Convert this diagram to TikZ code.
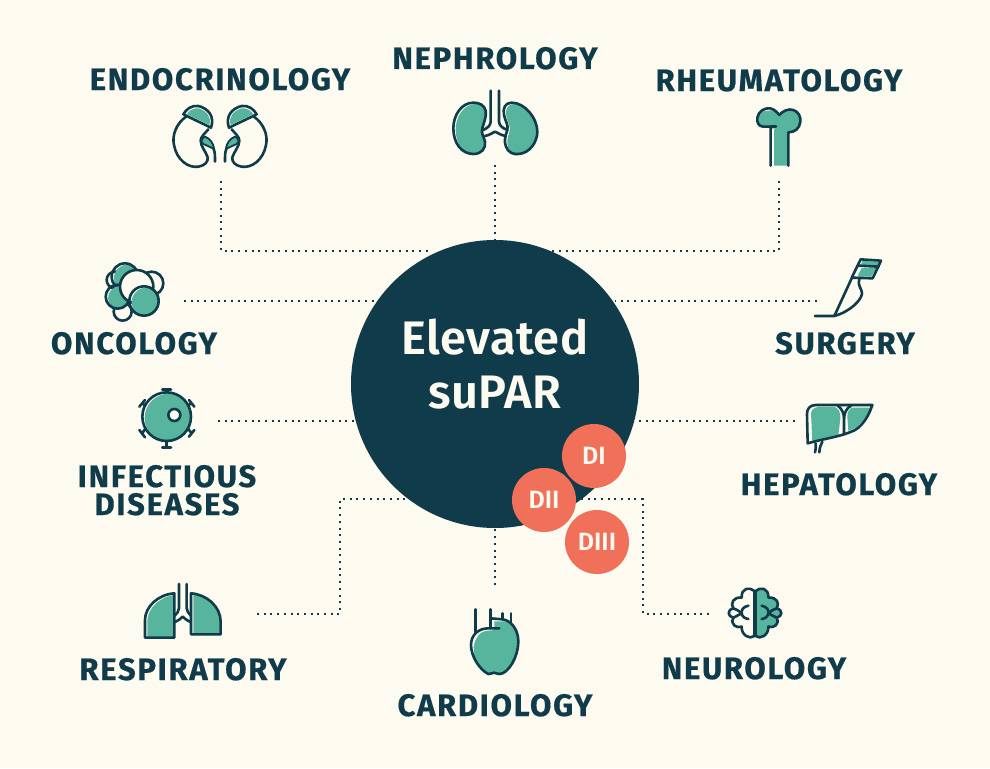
\documentclass[tikz,border=0pt]{standalone}
\usepackage{fontspec}
\setmainfont{Fira Sans}
\newfontfamily\labfont[LetterSpace=5.5,FakeBold=0.5]{Fira Sans Bold}
\newfontfamily\hubfont[LetterSpace=1]{Fira Sans SemiBold}
\newfontfamily\badgefont{Fira Sans SemiBold}
\definecolor{bgc}{HTML}{FDFAEF}
\definecolor{navy}{HTML}{0F3B4A}
\definecolor{tealc}{HTML}{58B59D}
\definecolor{coral}{HTML}{F0705A}
\tikzset{
  z/.style 2 args={shift={(#1,#2)},x=0.33333pt,y=-0.33333pt},
  ic/.style={draw=navy,line width=2.6pt,line cap=round,line join=round},
  lab/.style={anchor=base,inner sep=0pt,text=navy,font=\labfont\fontsize{31}{31}\selectfont},
  hubtxt/.style={anchor=base,inner sep=0pt,text=bgc,font=\hubfont\fontsize{47}{47}\selectfont},
  badge/.style={circle,fill=coral,minimum size=64pt,inner sep=0pt,text=bgc,font=\badgefont\fontsize{25}{25}\selectfont},
  dotline/.style={draw=navy,line width=2pt,dash pattern=on 2pt off 4.7pt},
}
\newcommand\offs[1]{\begin{scope}\clip #1;\fill[tealc,shift={(7,4)}] #1;\end{scope}\draw[ic] #1;}
\begin{document}
\begin{tikzpicture}[x=1pt,y=-1pt]
\useasboundingbox (0,0) rectangle (990,768);
\fill[bgc] (0,0) rectangle (990,768);
% connector anchors
\coordinate (e1) at (221,181); \coordinate (e2) at (221,251); \coordinate (e3) at (428,251);
\coordinate (n1) at (495,165); \coordinate (n2) at (495,240);
\coordinate (r1) at (779,181); \coordinate (r2) at (779,251); \coordinate (r3) at (548,251);
\coordinate (o1) at (184,301); \coordinate (o2) at (375,301);
\coordinate (s1) at (817,301); \coordinate (s2) at (615,301);
\coordinate (i1) at (218,421); \coordinate (i2) at (355,421);
\coordinate (h1) at (795,421); \coordinate (h2) at (637,421);
\coordinate (p1) at (257,614); \coordinate (p2) at (340,614); \coordinate (p3) at (340,499); \coordinate (p4) at (410,499);
\coordinate (c1) at (495,585); \coordinate (c2) at (495,528);
\coordinate (u1) at (709,614); \coordinate (u2) at (643,614); \coordinate (u3) at (643,499); \coordinate (u4) at (575,499);
\draw[dotline] (e1) -- (e2) -- (e3);
\draw[dotline] (n1) -- (n2);
\draw[dotline] (r1) -- (r2) -- (r3);
\draw[dotline] (o1) -- (o2);
\draw[dotline] (s1) -- (s2);
\draw[dotline] (i1) -- (i2);
\draw[dotline] (h1) -- (h2);
\draw[dotline] (p1) -- (p2) -- (p3) -- (p4);
\draw[dotline] (c1) -- (c2);
\draw[dotline] (u1) -- (u2) -- (u3) -- (u4);
% hub
\node[circle,fill=navy,minimum size=288pt,inner sep=0pt] (hub) at (495,384) {};
\node[hubtxt] (t1) at (495,354) {Elevated};
\node[hubtxt] (t2) at (495,408) {suPAR};
\node[badge] (d1) at (594,456) {DI};
\node[badge] (d3) at (597,542) {DIII};
\node[badge] (d2) at (544,500) {DII};
% labels
\node[lab] (l1) at (220,90) {ENDOCRINOLOGY};
\node[lab] (l2) at (495,69) {NEPHROLOGY};
\node[lab] (l3) at (779,91) {RHEUMATOLOGY};
\node[lab] (l4) at (134,354) {ONCOLOGY};
\node[lab] (l5) at (845,354) {SURGERY};
\node[lab] (l6) at (167,487) {INFECTIOUS};
\node[lab] (l7) at (167,515) {DISEASES};
\node[lab] (l8) at (839,495) {HEPATOLOGY};
\node[lab] (l9) at (183,680) {RESPIRATORY};
\node[lab] (l10) at (495,716) {CARDIOLOGY};
\node[lab] (l11) at (754,679) {NEUROLOGY};
% endocrinology
\foreach \sx/\ox in {1/150,-1/290}{
\begin{scope}[z={\ox}{80},xscale=\sx]
\draw[ic] (108,110) .. controls (80,130) and (65,165) .. (72,195) .. controls (80,240) and (115,265) .. (145,260) .. controls (165,257) and (175,245) .. (173,232) .. controls (168,215) and (152,200) .. (152,182) .. controls (152,170) and (165,160) .. (175,148);
\filldraw[ic,fill=bgc] (100,103) -- (183,143) .. controls (195,110) and (175,85) .. (145,78) .. controls (125,75) and (108,88) .. (100,103) -- cycle;
\fill[tealc] (110,103) -- (178,135) .. controls (185,110) and (170,92) .. (145,85) .. controls (130,83) and (117,92) .. (110,103) -- cycle;
\filldraw[ic,fill=tealc,line width=1.8pt] (165,170) .. controls (155,175) and (150,185) .. (160,192) .. controls (175,198) and (185,205) .. (192,205) .. controls (190,190) and (180,175) .. (165,170) -- cycle;
\draw[ic] (195,245) .. controls (195,225) and (195,215) .. (190,205);
\end{scope}}
% nephrology
\begin{scope}[z={430}{80}]
\offs{(130,68) .. controls (95,68) and (70,105) .. (70,145) .. controls (70,190) and (95,222) .. (130,222) .. controls (155,222) and (168,205) .. (165,185) .. controls (162,170) and (152,160) .. (157,145) .. controls (162,125) and (170,110) .. (167,92) .. controls (163,75) and (148,68) .. (130,68) -- cycle}
\offs{(245,68) .. controls (225,68) and (218,85) .. (222,105) .. controls (226,125) and (236,135) .. (232,150) .. controls (225,170) and (222,185) .. (228,200) .. controls (235,218) and (250,224) .. (265,222) .. controls (300,220) and (322,185) .. (322,155) .. controls (322,115) and (285,68) .. (245,68) -- cycle}
\draw[ic] (182,32) -- (182,125) .. controls (182,138) and (170,145) .. (160,150);
\draw[ic] (207,32) -- (207,125) .. controls (207,138) and (220,145) .. (232,150);
\draw[ic] (165,168) .. controls (180,165) and (188,158) .. (195,155) .. controls (202,158) and (212,165) .. (226,168);
\end{scope}
% rheumatology
\begin{scope}[z={730}{95}]
\begin{scope}
\clip (122,212) -- (122,95) -- (100,95) .. controls (85,95) and (80,80) .. (82,68) .. controls (85,48) and (105,38) .. (120,40) .. controls (132,42) and (142,52) .. (148,60) .. controls (158,48) and (175,40) .. (190,45) .. controls (205,50) and (213,65) .. (211,80) .. controls (209,100) and (195,112) .. (175,112) -- (175,212) -- cycle;
\fill[tealc] (132,212) -- (132,105) -- (138,98) -- (85,98) -- (85,55) .. controls (100,46) and (120,45) .. (132,52) -- (148,66) -- (170,45) -- (220,50) -- (220,120) -- (180,120) -- (175,212) -- cycle;
\fill[tealc,shift={(7,6)}] (100,95) .. controls (85,95) and (80,80) .. (82,68) .. controls (85,48) and (105,38) .. (120,40) .. controls (132,42) and (142,52) .. (148,60) -- (148,95) -- cycle;
\end{scope}
\draw[ic] (122,212) -- (122,95) -- (100,95) .. controls (85,95) and (80,80) .. (82,68) .. controls (85,48) and (105,38) .. (120,40) .. controls (132,42) and (142,52) .. (148,60) .. controls (158,48) and (175,40) .. (190,45) .. controls (205,50) and (213,65) .. (211,80) .. controls (209,100) and (195,112) .. (175,112) -- (175,212);
\draw[ic] (122,95) -- (138,95);
\end{scope}
% oncology
\begin{scope}[z={90}{255}]
\filldraw[ic,fill=bgc] (75,75) circle[radius=25];
\filldraw[ic,fill=bgc] (185,85) circle[radius=35];
\filldraw[ic,fill=bgc] (98,170) circle[radius=27];
\offs{(105,65) circle[radius=40]}
\offs{(83,125) circle[radius=36]}
\filldraw[ic,fill=bgc] (140,95) circle[radius=50];
\offs{(162,138) circle[radius=44]}
\end{scope}
% surgery
\begin{scope}[z={800}{250}]
\fill[tealc] (188,33) -- (238,35) -- (232,47) -- (182,45) -- cycle;
\fill[tealc] (185,54) -- (230,54) -- (213,80) -- (172,80) -- cycle;
\draw[ic] (182,28) -- (243,32) -- (218,85) -- (155,83) -- cycle;
\draw[ic] (175,47) -- (236,50);
\draw[ic] (155,85) -- (103,198) -- (45,198);
\draw[ic] (103,198) .. controls (150,185) and (185,150) .. (186,130) .. controls (186,115) and (172,110) .. (178,88);
\end{scope}
% infectious
\begin{scope}[z={125}{380}]
\offs{(125,110) circle[radius=73]}
\filldraw[ic,fill=bgc] (148,105) circle[radius=18];
\draw[ic] (125,37) -- (125,28) (112,28) -- (138,28);
\draw[ic] (125,183) -- (125,203) (112,203) -- (138,203);
\draw[ic] (189,76) -- (200,70) (192,60) -- (208,80);
\draw[ic] (61,76) -- (51,70) (60,60) -- (43,80);
\draw[ic] (61,146) -- (51,161) (43,150) -- (60,172);
\draw[ic] (189,146) -- (200,160) (208,150) -- (192,170);
\end{scope}
% hepatology
\begin{scope}[z={795}{395}]
\fill[tealc] (48,55) .. controls (50,42) and (60,36) .. (72,36) -- (118,36) .. controls (130,40) and (137,50) .. (136,70) -- (130,122) .. controls (100,130) and (75,135) .. (52,140) -- cycle;
\fill[tealc] (170,38) -- (226,38) .. controls (215,65) and (200,85) .. (182,98) -- (160,108) -- (157,65) .. controls (157,50) and (162,42) .. (170,38) -- cycle;
\draw[ic] (232,30) -- (62,30) .. controls (45,30) and (35,42) .. (36,58) -- (38,145) .. controls (90,130) and (140,125) .. (180,105) .. controls (205,90) and (222,60) .. (232,30) -- cycle;
\draw[ic] (128,32) .. controls (140,40) and (147,55) .. (147,70) -- (147,117);
\draw[ic] (168,32) .. controls (155,40) and (149,50) .. (147,70);
\draw[ic] (62,145) .. controls (63,155) and (62,165) .. (60,172);
\draw[ic] (82,140) .. controls (76,150) and (74,160) .. (73,172);
\end{scope}
% respiratory
\begin{scope}[z={130}{575}]
\offs{(133,55) .. controls (85,58) and (45,95) .. (45,135) -- (45,188) -- (133,188) -- cycle}
\offs{(183,55) .. controls (230,58) and (272,95) .. (272,140) -- (272,178) -- (183,178) -- cycle}
\draw[ic] (147,27) -- (147,100) .. controls (147,110) and (140,115) .. (134,122);
\draw[ic] (170,27) -- (170,100) .. controls (170,110) and (177,115) .. (183,122);
\draw[ic] (135,141) .. controls (145,138) and (152,130) .. (158,125) .. controls (164,130) and (172,138) .. (183,141);
\end{scope}
% cardiology
\begin{scope}[z={455}{600}]
\begin{scope}
\clip (115,60) -- (140,60) .. controls (170,65) and (190,90) .. (190,125) .. controls (190,170) and (160,222) .. (133,222) .. controls (125,222) and (122,218) .. (118,218) .. controls (112,218) and (110,222) .. (100,222) .. controls (75,210) and (48,170) .. (48,135) .. controls (50,105) and (70,85) .. (100,85) -- (115,85) -- cycle;
\fill[tealc] (118,64) -- (200,64) -- (200,230) -- (60,230) -- (56,140) .. controls (60,115) and (75,92) .. (100,92) -- (118,90) -- cycle;
\end{scope}
\draw[ic] (133,85) -- (100,85) .. controls (70,85) and (48,105) .. (48,135) .. controls (48,170) and (75,210) .. (100,222) .. controls (110,222) and (112,218) .. (118,218) .. controls (122,218) and (125,222) .. (133,222) .. controls (160,222) and (190,170) .. (190,125) .. controls (190,90) and (170,62) .. (143,58) -- (107,55);
\draw[ic] (62,28) -- (62,97);
\draw[ic] (107,28) -- (107,85);
\draw[ic] (143,40) -- (143,58);
\draw[ic] (168,40) -- (168,72);
\end{scope}
% neurology
\begin{scope}[z={715}{575}]
\foreach \sx/\ox/\fc in {0/1/bgc,240/-1/tealc}{
\begin{scope}[shift={(\sx,0)},xscale=\ox]
\filldraw[ic,fill=\fc] (118,48) .. controls (105,35) and (78,38) .. (80,68) .. controls (55,65) and (45,85) .. (55,100) .. controls (35,105) and (38,125) .. (55,128) .. controls (45,150) and (65,160) .. (80,155) .. controls (78,180) and (105,195) .. (118,183) -- cycle;
\draw[ic] (100,92) .. controls (85,95) and (78,105) .. (80,115) .. controls (82,125) and (88,130) .. (100,132);
\draw[ic] (55,100) .. controls (65,103) and (72,108) .. (80,115) .. controls (70,120) and (62,125) .. (55,128);
\end{scope}}
\end{scope}
\end{tikzpicture}
\end{document}
